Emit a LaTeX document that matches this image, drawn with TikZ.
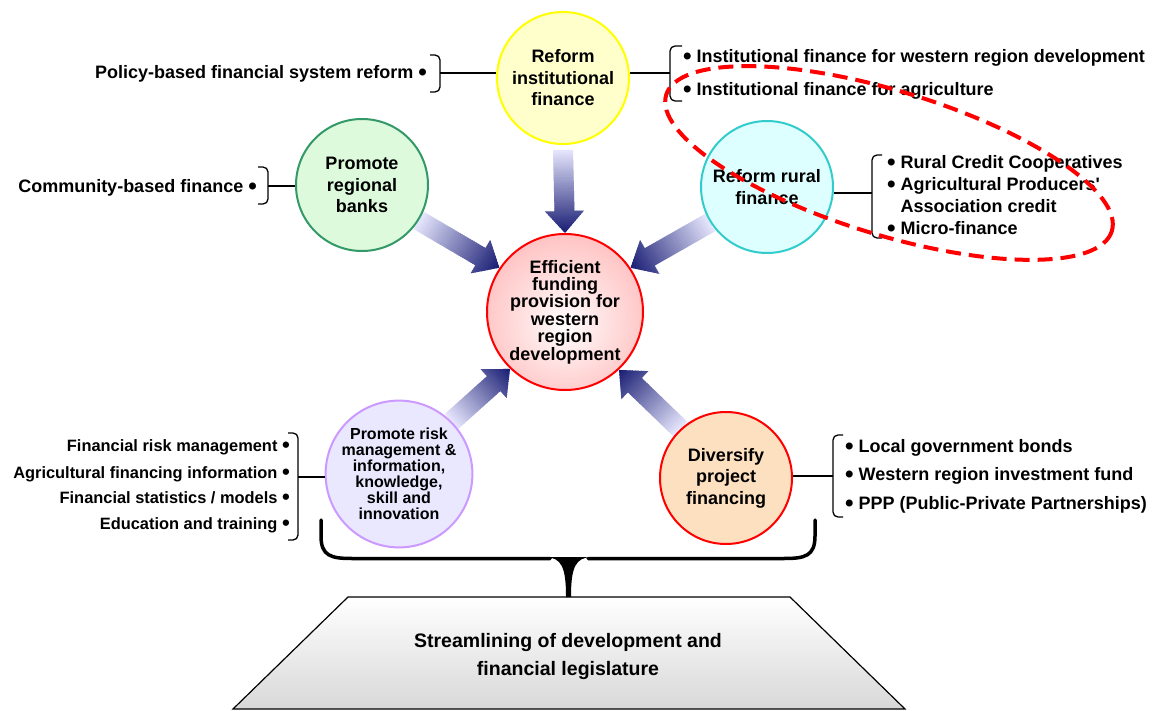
\documentclass[tikz,border=0pt]{standalone}
\usepackage{fontspec}
\setmainfont{Liberation Sans}
\usetikzlibrary{calc,backgrounds}

\definecolor{arrowlight}{RGB}{228,228,252}
\definecolor{arrownavy}{RGB}{26,30,116}
\definecolor{yelfill}{RGB}{255,255,204}
\definecolor{yelline}{RGB}{255,255,0}
\definecolor{grnfill}{RGB}{221,250,221}
\definecolor{grnline}{RGB}{51,153,102}
\definecolor{cyanfill}{RGB}{221,255,255}
\definecolor{cyanline}{RGB}{51,204,204}
\definecolor{lavfill}{RGB}{234,232,255}
\definecolor{lavline}{RGB}{204,153,255}
\definecolor{peachfill}{RGB}{253,224,192}
\definecolor{trapgray}{RGB}{216,216,216}

% a slightly enlarged list bullet
\newcommand\blt{\raisebox{-0.12em}{\scalebox{1.35}{•}}}

% white core fading to pink at the rim
\pgfdeclareradialshading{ctrglow}{\pgfpoint{0bp}{-4bp}}{rgb(0bp)=(1,1,1); rgb(4bp)=(1,0.96,0.96); rgb(47bp)=(1,0.6,0.6); rgb(70bp)=(1,0.6,0.6)}

% thick arrow with a light-to-navy gradient, from one anchor to another
\newcommand\navyarrow[2]{%
  \path let \p1=(#1), \p2=(#2),
    \n1={atan2(\y2-\y1,\x2-\x1)}, \n2={veclen(\x2-\x1,\y2-\y1)} in
    \pgfextra{\xdef\faAng{\n1}\xdef\faLen{\n2}\xdef\faX{\x1}\xdef\faY{\y1}};
  \begin{scope}[shift={(\faX,\faY)}, rotate=\faAng]
    \clip (0,-10) -- ({\faLen-22},-10) -- ({\faLen-22},-19.5) -- (\faLen,0)
      -- ({\faLen-22},19.5) -- ({\faLen-22},10) -- (0,10) -- cycle;
    \foreach \k in {0,...,39}{%
      \pgfmathtruncatemacro\mixp{100*\k/39}
      \fill[arrownavy!\mixp!arrowlight] ({\k*\faLen/40},-21) rectangle ({(\k+1)*\faLen/40+0.8},21);
    }
  \end{scope}
}

\tikzset{
  bub/.style={circle, line width=2pt, inner sep=0pt, align=center, minimum size=132pt,
    font=\bfseries\fontsize{18}{21.5}\selectfont},
  listtxt/.style={inner sep=0pt, font=\bfseries\fontsize{18}{22}\selectfont},
  listsmall/.style={inner sep=0pt, font=\bfseries\fontsize{16.4}{20}\selectfont},
  tie/.style={line width=1.3pt},
  brk/.style={line width=1.3pt, rounded corners=5pt},
  ring/.style={red, line width=4pt, dash pattern=on 15pt off 8pt},
  bracefill/.style={line width=3.5pt, line cap=round},
}

\begin{document}
\begin{tikzpicture}[x=1pt, y=-1pt]
\useasboundingbox (0,0) rectangle (1154,711);

% ---- circles ----
\node[bub, draw=yelline, fill=yelfill] (top) at (563,78) {Reform\\institutional\\finance};
\node[bub, draw=red, shade, shading=ctrglow, minimum size=156pt,
      font=\bfseries\fontsize{18}{17.4}\selectfont] (ctr) at (565,312)
      {Efficient\\funding\\provision for\\western\\region\\development};
\node[bub, draw=grnline, fill=grnfill] (gr) at (362,185) {Promote\\regional\\banks};
\node[bub, draw=cyanline, fill=cyanfill] (cy) at (767,187) {Reform rural\\finance};
\node[bub, draw=lavline, fill=lavfill, font=\bfseries\fontsize{16}{16}\selectfont] (lv) at (399,474)
      {Promote risk\\management \&\\information,\\knowledge,\\skill and\\innovation};
\node[bub, draw=red, fill=peachfill] (or) at (726,478) {Diversify\\project\\financing};

% ---- arrows into the centre (behind the circles) ----
\begin{pgfonlayer}{background}
  \fill[white] (0,0) rectangle (1154,711);
  \navyarrow{$(top.south)+(0,5)$}{ctr.north}
  \navyarrow{gr.-32}{ctr.146}
  \navyarrow{cy.212}{ctr.34}
  \navyarrow{lv.45}{ctr.-134}
  \navyarrow{or.133}{ctr.-47}
\end{pgfonlayer}

% ---- reform institutional finance: lists ----
\node[listtxt, anchor=base east] (pb1) at (427,78.5) {Policy-based financial system reform \blt};
\draw[brk] (430,55) -- (440,55) -- (440,92) -- (430,92);
\coordinate (kTL) at (440,73);
\draw[tie] (kTL) -- (kTL -| top.west);

\node[listtxt, anchor=base west] (if1) at (683,62.5) {\blt\ Institutional finance for western region development};
\node[listtxt, anchor=base west] (if2) at (683,95.5) {\blt\ Institutional finance for agriculture};
\draw[brk] (682,46) -- (670,46) -- (670,101) -- (682,101);
\coordinate (kTR) at (670,73);
\draw[tie] (kTR) -- (kTR -| top.east);

% ---- regional banks ----
\node[listtxt, anchor=base east] (cb1) at (257,192.5) {Community-based finance \blt};
\draw[brk] (258,167) -- (268,167) -- (268,204) -- (258,204);
\coordinate (kG) at (268,186);
\draw[tie] (kG) -- (kG -| gr.west);

% ---- rural finance ----
\node[listtxt, anchor=base west] (rf1) at (887,168.5) {\blt\ Rural Credit Cooperatives};
\node[listtxt, anchor=base west] (rf2) at (887,190.5) {\blt\ Agricultural Producers\textquotesingle};
\node[listtxt, anchor=base west] (rf3) at (900.5,212.5) {Association credit};
\node[listtxt, anchor=base west] (rf4) at (887,234.5) {\blt\ Micro-finance};
\draw[brk] (882,155) -- (872,155) -- (872,238) -- (882,238);
\coordinate (kC) at (872,193);
\draw[tie] (kC) -- (kC -| cy.east);

% ---- risk management ----
\node[listsmall, anchor=base east] (rm1) at (290,451) {Financial risk management \blt};
\node[listsmall, anchor=base east] (rm2) at (290,478) {Agricultural financing information \blt};
\node[listsmall, anchor=base east] (rm3) at (290,503) {Financial statistics / models \blt};
\node[listsmall, anchor=base east] (rm4) at (290,529) {Education and training \blt};
\draw[brk] (288,433) -- (298,433) -- (298,540) -- (288,540);
\coordinate (kL) at (298,477);
\draw[tie] (kL) -- (kL -| lv.west);

% ---- project financing ----
\node[listtxt, anchor=base west] (pf1) at (845,452.5) {\blt\ Local government bonds};
\node[listtxt, anchor=base west] (pf2) at (845,480.5) {\blt\ Western region investment fund};
\node[listtxt, anchor=base west] (pf3) at (845,509.5) {\blt\ PPP (Public-Private Partnerships)};
\draw[brk] (843,435) -- (833,435) -- (833,517) -- (843,517);
\coordinate (kO) at (833,476);
\draw[tie] (kO) -- (kO -| or.east);

% ---- legislation platform ----
\path[draw, line width=1.2pt, top color=white, bottom color=trapgray]
  (348,597) -- (790,597) -- (905,709) -- (233,709) -- cycle;
\coordinate (trtop) at (568.5,597);
\node[inner sep=0pt, align=center, font=\bfseries\fontsize{19.5}{28}\selectfont] (leg) at (568,656)
  {Streamlining of development and\\financial legislature};

% ---- brace gathering the lower circles ----
\draw[bracefill] (321,520) -- (321,536) .. controls (321,556) and (331,558.5) .. (352,558.5) -- (550,558.5);
\draw[bracefill] (815,520) -- (815,536) .. controls (815,556) and (805,558.5) .. (784,558.5) -- (588,558.5);
\fill (546,557) -- (591,557) .. controls (576,558) and (571,566) .. (571,597)
  -- (trtop) -- (566,597) .. controls (566,566) and (561,558) .. (546,557) -- cycle;

% ---- dashed highlight ring ----
\draw[ring, rotate around={-17:(889,163)}] (889,163) ellipse [x radius=233, y radius=72];

\end{tikzpicture}
\end{document}
